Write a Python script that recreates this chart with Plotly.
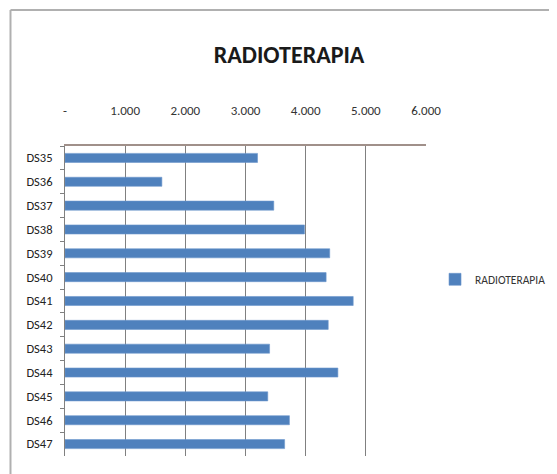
import plotly.graph_objects as go

# ── Data ──────────────────────────────────────────────────────────────────────
categories = ['DS35', 'DS36', 'DS37', 'DS38', 'DS39', 'DS40', 'DS41',
              'DS42', 'DS43', 'DS44', 'DS45', 'DS46', 'DS47']
radioterapia = [3200, 1610, 3470, 3980, 4400, 4340, 4790,
                4375, 3400, 4535, 3370, 3730, 3650]
tick_vals = [0, 1000, 2000, 3000, 4000, 5000, 6000]
tick_text = ['-', '1.000', '2.000', '3.000', '4.000', '5.000', '6.000']

FONT = 'Carlito, Liberation Sans Narrow, Open Sans, sans-serif'
BLUE = '#4f81bd'

fig = go.Figure()
fig.add_trace(go.Bar(
    x=radioterapia, y=categories,
    orientation='h',
    name='RADIOTERAPIA',
    marker=dict(color=BLUE, line=dict(color='#6d97cc', width=0.6)),
))

# page body adds an 8px margin, so the figure is a bit smaller than the window
fig.update_layout(
    width=549, height=466,
    margin=dict(l=57, r=131, t=138, b=18, autoexpand=False),
    paper_bgcolor='white', plot_bgcolor='white',
    font=dict(family=FONT, color='#333333', size=12),
    title=dict(
        text='<b>RADIOTERAPIA</b>',
        x=0.512, xanchor='center', y=0.9, yanchor='middle',
        font=dict(family=FONT, size=24, color='#1a1a1a'),
    ),
    bargap=0.62,
    showlegend=True,
    legend=dict(
        x=1.025, xanchor='left', y=0.57, yanchor='middle',
        font=dict(family=FONT, size=11.5, color='#333333'),
        itemwidth=30,
    ),
    shapes=[
        dict(type='line', xref='paper', yref='paper',
             x0=-0.151, x1=1.6, y0=1.4387, y1=1.4387,
             line=dict(color='#b0b0b0', width=2)),
        dict(type='line', xref='paper', yref='paper',
             x0=-0.151, x1=-0.151, y0=1.4387, y1=-0.2,
             line=dict(color='#b0b0b0', width=2)),
    ],
)

fig.update_xaxes(
    side='top', range=[0, 6000],
    tickvals=tick_vals, ticktext=tick_text,
    showgrid=True, gridcolor='#808080', gridwidth=1,
    showline=True, linecolor='#a0908a', linewidth=1.5,
    ticks='inside', ticklen=5, tickcolor='#808080',
    ticklabelstandoff=24,
    tickfont=dict(family=FONT, size=13, color='#333333'),
    zeroline=False, fixedrange=True,
)
fig.update_yaxes(
    autorange='reversed',
    showline=True, linecolor='#808080', linewidth=1,
    ticks='outside', ticklen=4, tickcolor='#808080', tickson='boundaries',
    ticklabelstandoff=9,
    tickfont=dict(family=FONT, size=12.5, color='#222222'),
    showgrid=False, fixedrange=True,
)

fig.write_html("out.html")
